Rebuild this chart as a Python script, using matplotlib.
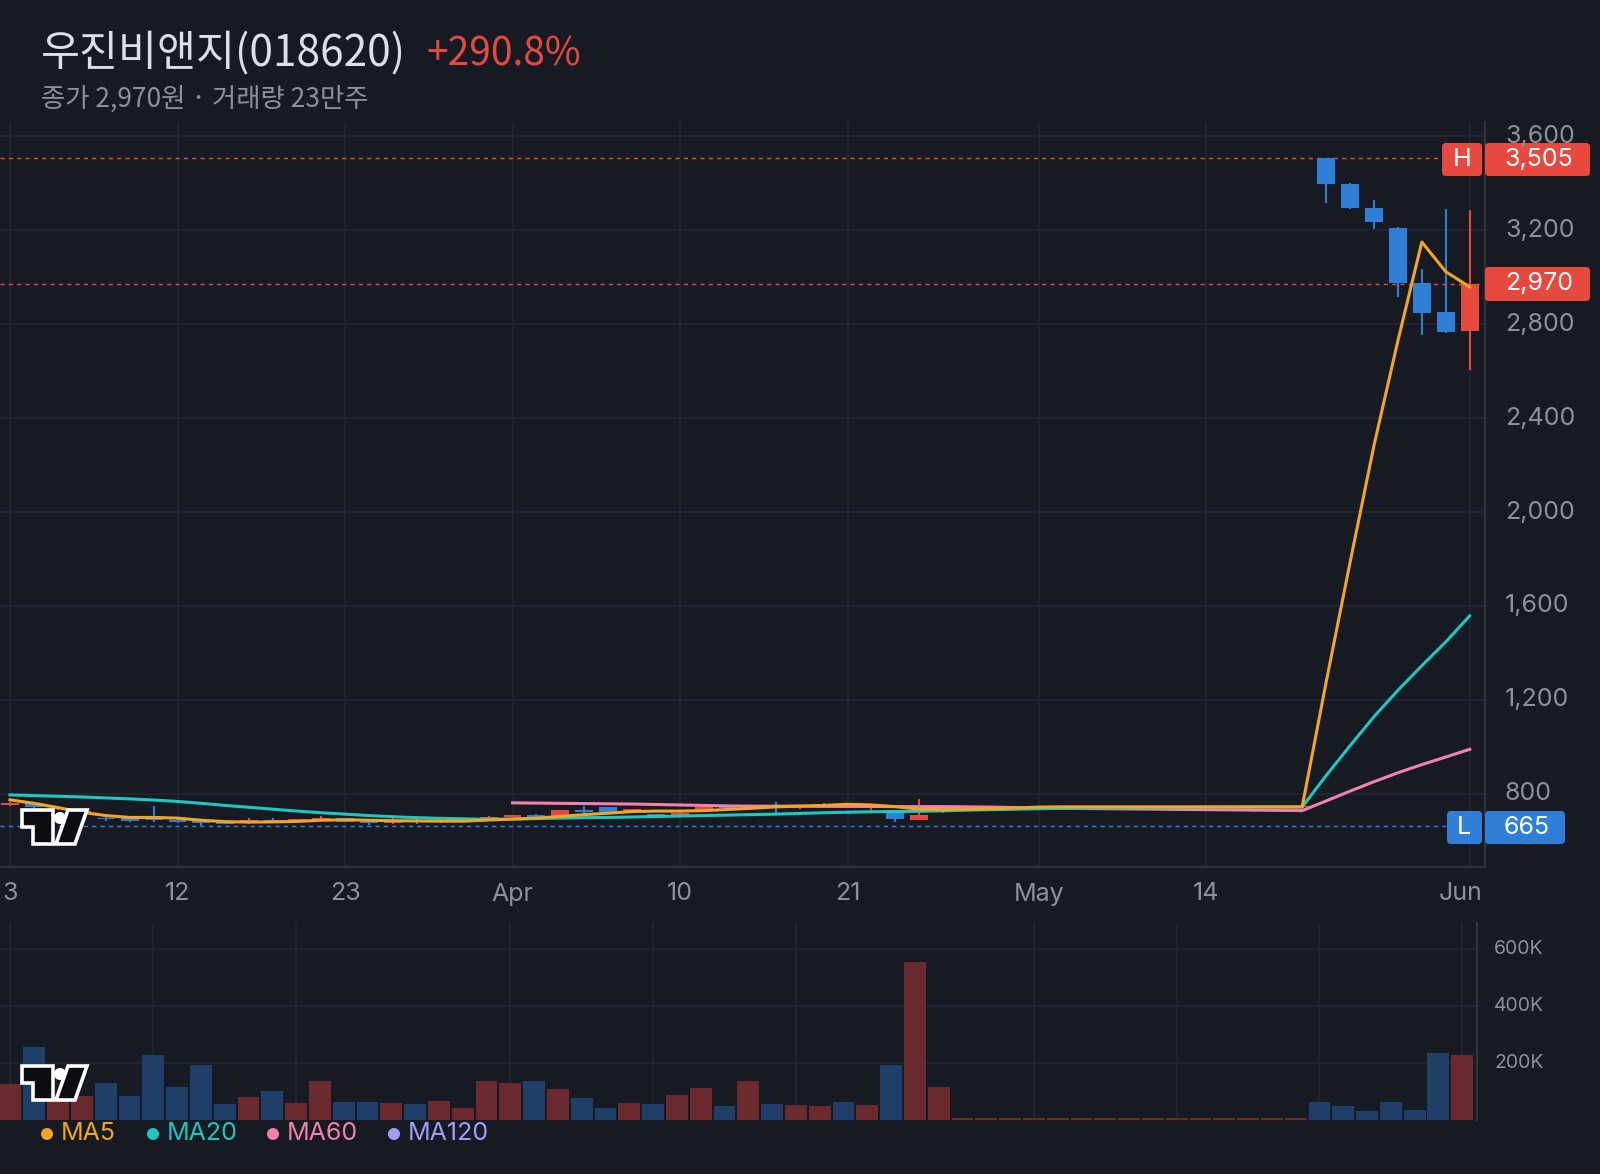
import numpy as np
import matplotlib.pyplot as plt
from matplotlib.patches import Rectangle, FancyBboxPatch, Polygon, Ellipse
from matplotlib.transforms import Affine2D, Bbox, TransformedBbox, blended_transform_factory

plt.rcParams['font.family'] = ['Noto Sans CJK KR', 'DejaVu Sans']

# ---- data, one entry per trading day ----
opens = [755, 760, 736, 722, 697, 696, 694, 691, 683, 680,
         675, 691, 683, 689, 696, 688, 675, 690, 681, 683,
         694, 703, 710, 707, 730, 744, 726, 714, 705, 732,
         748, 742, 752, 746, 752, 759, 738, 730, 691, 735,
         745, 745, 745, 745, 745, 745, 745, 745, 745, 745,
         745, 745, 745, 745, 745, 3505, 3395, 3295, 3210, 2975, 2850, 2770]
highs = [766, 763, 745, 732, 700, 697, 748, 692, 685, 682,
         696, 697, 695, 705, 698, 690, 696, 692, 688, 690,
         707, 711, 714, 731, 748, 745, 737, 716, 728, 748,
         750, 752, 765, 754, 762, 762, 744, 733, 780, 748,
         745, 745, 745, 745, 745, 745, 745, 745, 745, 745,
         745, 745, 745, 745, 745, 3505, 3400, 3330, 3212, 3035, 3290, 3285]
lows = [750, 742, 730, 716, 686, 680, 680, 678, 665, 670,
        672, 682, 680, 686, 680, 669, 673, 671, 678, 680,
        692, 700, 698, 705, 720, 722, 723, 700, 703, 730,
        740, 740, 712, 737, 750, 750, 730, 680, 689, 720,
        745, 745, 745, 745, 745, 745, 745, 745, 745, 745,
        745, 745, 745, 745, 745, 3315, 3290, 3205, 2915, 2755, 2760, 2605]
closes = [760, 745, 740, 728, 693, 684, 690, 681, 676, 674,
          690, 686, 693, 697, 682, 678, 687, 683, 686, 688,
          700, 710, 700, 730, 721, 724, 734, 704, 720, 746,
          742, 750, 744, 752, 758, 752, 742, 695, 710, 745,
          745, 745, 745, 745, 745, 745, 745, 745, 745, 745,
          745, 745, 745, 745, 745, 3395, 3295, 3235, 2975, 2845, 2765, 2970]
volume = [126000, 255000, 73000, 84000, 129000, 84000, 227000, 115000, 192000, 56000,
          80000, 101000, 59000, 136000, 63000, 63000, 59000, 56000, 66000, 42000,
          136000, 129000, 136000, 108000, 77000, 42000, 59000, 56000, 87000, 112000,
          49000, 136000, 56000, 52000, 49000, 63000, 52000, 192000, 555000, 115000,
          7000, 7000, 7000, 7000, 7000, 7000, 7000, 7000, 7000, 7000,
          7000, 7000, 7000, 7000, 7000, 63000, 49000, 31000, 63000, 35000, 234000, 227000]
ma5 = [775, 760, 742, 722, 708, 700, 700, 697, 688, 682,
       680, 681, 683, 688, 690, 688, 686, 685, 684, 684,
       689, 693, 697, 704, 712, 718, 725, 727, 727, 729,
       734, 739, 745, 748, 751, 756, 753, 746, 735, 733,
       735, 737, 740, 744, 745, 745, 745, 745, 745, 745,
       745, 745, 745, 745, 745, 1275, 1785, 2283, 2729, 3149, 3023, 2958]
ma20 = [796, 793, 790, 787, 783, 779, 774, 768, 760, 751,
        743, 735, 727, 720, 714, 708, 703, 699, 696, 694,
        692, 693, 695, 697, 699, 700, 702, 704, 706, 708,
        710, 712, 714, 717, 720, 722, 724, 725, 726, 728,
        731, 733, 735, 737, 739, 740, 741, 741, 742, 742,
        743, 743, 744, 744, 744, 878, 1005, 1129, 1241, 1346, 1447, 1558]
ma60 = [None] * 21 + [762, 761, 760, 759, 758, 757, 755, 753, 751, 749,
                      748, 748, 748, 747, 747, 747, 746, 746, 746, 745,
                      744, 742, 740, 739, 738, 737, 736, 735, 734, 733,
                      732, 731, 730, 729,
                      770, 812, 852, 890, 925, 957, 990]
date_pos = [0, 7, 14, 21, 28, 35, 43, 50, 61]
date_labels = ['3', '12', '23', 'Apr', '10', '21', 'May', '14', 'Jun']
vol_grid_pos = [0, 6, 12, 21, 27, 33, 43, 49, 55, 61]
price_ticks = [800, 1200, 1600, 2000, 2400, 2800, 3200, 3600]
vol_ticks = [200000, 400000, 600000]
vol_tick_labels = ['200K', '400K', '600K']
high_price, low_price, last_price = 3505, 665, 2970

W, H = 1600, 1174
BG = '#151a23'
GRID = '#222733'
BORDER = '#2e3440'
TXT = '#8c919a'
RED = '#e8493f'
BLUE = '#2f7fd8'
VRED = '#6b2a2e'
VBLUE = '#1f3f68'
C5, C20, C60, C120 = '#f5a524', '#1fc8be', '#f47fb0', '#a39cf5'
NUMFONT = ['Inter', 'DejaVu Sans']

fig = plt.figure(figsize=(16, 11.74), dpi=100, facecolor=BG)
px = Affine2D().scale(1, -1).translate(0, H).scale(1 / 100) + fig.dpi_scale_trans

n = len(closes)
x = np.arange(n)

# ---- price panel ----
ax = fig.add_axes([0, 1 - 867 / H, 1485 / W, (867 - 122) / H])
ax.set_facecolor(BG)
ax.set_xlim(-0.418, 61.64)
ax.set_ylim(489, 3660)
for s in ['top', 'left']:
    ax.spines[s].set_visible(False)
for s in ['right', 'bottom']:
    ax.spines[s].set_color(BORDER)
    ax.spines[s].set_linewidth(1.5)
ax.set_xticks([])
ax.set_yticks([])
for t in price_ticks:
    ax.axhline(t, color=GRID, lw=1.2, zorder=0)
for p in date_pos:
    ax.axvline(p, color=GRID, lw=1.2, zorder=0)

ax.axhline(high_price, color=RED, lw=1, ls=(0, (3, 3)), zorder=1)
ax.axhline(last_price, color=RED, lw=1, ls=(0, (3, 3)), zorder=1)
ax.axhline(low_price, color=BLUE, lw=1, ls=(0, (3, 3)), zorder=1)

for i in range(n):
    o, h, l, c = opens[i], highs[i], lows[i], closes[i]
    col = RED if c >= o else BLUE
    ax.vlines(i, l, h, color=col, lw=1.5, zorder=2)
    ax.add_patch(Rectangle((i - 0.375, min(o, c)), 0.75, max(abs(c - o), 4.5),
                           facecolor=col, edgecolor='none', zorder=3))

ma60_arr = np.array([np.nan if v is None else v for v in ma60], float)
ax.plot(x, ma60_arr, color=C60, lw=2.2, zorder=4, solid_joinstyle='round')
ax.plot(x, ma20, color=C20, lw=2.2, zorder=5, solid_joinstyle='round')
ax.plot(x, ma5, color=C5, lw=2.2, zorder=6, solid_joinstyle='round')

ytr = blended_transform_factory(px, ax.transData)
clip = TransformedBbox(Bbox([[1485 / W, 1 - 867 / H], [1, 1 - 124 / H]]), fig.transFigure)
for t in price_ticks:
    tx = fig.text(1505, t, f'{t:,}', transform=ytr, color=TXT, fontsize=18,
                  family=NUMFONT, va='center', ha='left')
    tx.set_clip_box(clip)
    tx.set_clip_on(True)

xtr = blended_transform_factory(ax.transData, px)
for p, lab in zip(date_pos[:-1], date_labels[:-1]):
    fig.text(p, 894, lab, transform=xtr, color=TXT, fontsize=18, family=NUMFONT,
             ha='center', va='center')
# last label is pushed left so it stays inside the pane
fig.text(1483, 894, date_labels[-1], transform=px, color=TXT, fontsize=18,
         family=NUMFONT, ha='right', va='center')


def box(x0, y0, w, h, color):
    fig.add_artist(FancyBboxPatch((x0, y0), w, h, boxstyle='round,pad=0,rounding_size=4',
                                  transform=px, facecolor=color, edgecolor='none'))


def boxtext(xc, yc, s):
    fig.text(xc, yc, s, transform=px, color='white', fontsize=18, family=NUMFONT,
             ha='center', va='center')


box(1442, 143, 40, 33, RED)
box(1485, 143, 105, 33, RED)
boxtext(1462, 159.5, 'H')
boxtext(1539, 159.5, f'{high_price:,}')
box(1485, 267, 105, 34, RED)
boxtext(1539, 284, f'{last_price:,}')
box(1447, 811, 35, 33, BLUE)
box(1485, 811, 80, 33, BLUE)
boxtext(1464, 827.5, 'L')
boxtext(1527, 827.5, f'{low_price:,}')

# ---- volume panel ----
axv = fig.add_axes([0, 1 - 1120 / H, 1477 / W, (1120 - 923) / H])
axv.set_facecolor(BG)
axv.set_xlim(-0.441, 61.62)
axv.set_ylim(0, 691000)
for s in ['top', 'left', 'bottom']:
    axv.spines[s].set_visible(False)
axv.spines['right'].set_color(BORDER)
axv.spines['right'].set_linewidth(1.5)
axv.set_xticks([])
axv.set_yticks([])
for t in vol_ticks:
    axv.axhline(t, color=GRID, lw=1.2, zorder=0)
for p in vol_grid_pos:
    axv.axvline(p, color=GRID, lw=1.2, zorder=0)
vcols = [VRED if c >= o else VBLUE for o, c in zip(opens, closes)]
axv.bar(x, volume, width=0.92, color=vcols, zorder=2)

vtr = blended_transform_factory(px, axv.transData)
for t, lab in zip(vol_ticks, vol_tick_labels):
    fig.text(1494, t, lab, transform=vtr, color=TXT, fontsize=14, family=NUMFONT,
             va='center', ha='left')


# ---- watermark logo ----
def logo(ox, oy):
    ink = '#0b0d12'
    t_shape = [(2, 2), (33, 2), (33, 36), (13, 36), (13, 19), (2, 19)]
    slash = [(48, 2), (67, 2), (55, 36), (36, 36)]
    for shp in (t_shape, slash):
        fig.add_artist(Polygon([(ox + a, oy + b) for a, b in shp], closed=True,
                               transform=px, facecolor=ink, edgecolor='white',
                               lw=2.6, joinstyle='miter', zorder=8))
    fig.add_artist(Ellipse((ox + 40, oy + 10), 12, 12, transform=px,
                           facecolor='white', edgecolor='none', zorder=9))


logo(20, 808)
logo(20, 1064)

# ---- title & legend ----
fig.text(41, 54, '우진비앤지(018620)', transform=px, color='#dcdfe5', fontsize=30.5, va='center')
fig.text(426, 54, '+290.8%', transform=px, color=RED, fontsize=28, va='center')
fig.text(41, 99, '종가 2,970원 · 거래량 23만주', transform=px, color=TXT, fontsize=19, va='center')

legend_items = [('MA5', C5, 47), ('MA20', C20, 153), ('MA60', C60, 273), ('MA120', C120, 394)]
for name, col, lx in legend_items:
    fig.add_artist(Ellipse((lx, 1134), 12, 12, transform=px, facecolor=col, edgecolor='none'))
    fig.text(lx + 14, 1134, name, transform=px, color=col, fontsize=18, family=NUMFONT,
             va='center', ha='left')

fig.savefig('out.png', dpi=100, facecolor=BG)
